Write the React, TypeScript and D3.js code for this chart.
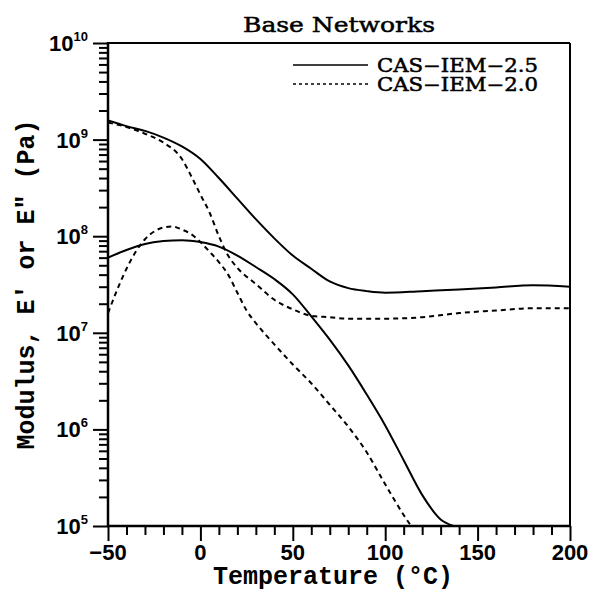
import React, { useEffect, useRef } from 'react'
import * as d3 from 'd3'

// E' and E'' for the two base networks (Pa)
const tempStorage25 = [-50, -40, -30, -20, -10, 0, 10, 20, 30, 40, 50, 60, 70, 80, 90, 100, 120, 140, 160, 180, 200]
const storage25 = [1.58e9, 1.38e9, 1.23e9, 1.05e9, 8.5e8, 6.3e8, 4.0e8, 2.45e8, 1.5e8, 9.5e7, 6.3e7, 4.6e7, 3.4e7, 2.9e7, 2.7e7, 2.6e7, 2.7e7, 2.8e7, 2.95e7, 3.1e7, 3.0e7]

const tempStorage20 = [-50, -40, -30, -20, -10, -5, 0, 5, 10, 15, 20, 30, 40, 50, 60, 70, 80, 100, 120, 140, 160, 180, 200]
const storage20 = [1.5e9, 1.35e9, 1.15e9, 9.3e8, 6.3e8, 4.2e8, 2.7e8, 1.75e8, 1.0e8, 6.3e7, 4.7e7, 3.2e7, 2.2e7, 1.75e7, 1.5e7, 1.45e7, 1.4e7, 1.4e7, 1.45e7, 1.6e7, 1.7e7, 1.8e7, 1.8e7]

const tempLoss25 = [-50, -40, -30, -20, -10, 0, 10, 20, 30, 40, 50, 60, 70, 80, 90, 100, 110, 120, 130, 137]
const loss25 = [6.0e7, 7.2e7, 8.3e7, 8.9e7, 9.1e7, 8.7e7, 7.8e7, 6.3e7, 4.8e7, 3.6e7, 2.5e7, 1.48e7, 8.5e6, 4.6e6, 2.3e6, 1.1e6, 4.8e5, 2.1e5, 1.17e5, 1.0e5]

const tempLoss20 = [-50, -45, -40, -35, -30, -25, -20, -15, -10, -5, 0, 5, 10, 15, 20, 25, 30, 40, 50, 60, 70, 80, 90, 100, 110, 114]
const loss20 = [1.6e7, 2.8e7, 4.6e7, 6.9e7, 9.3e7, 1.12e8, 1.23e8, 1.26e8, 1.17e8, 1.05e8, 8.7e7, 6.9e7, 5.4e7, 4.0e7, 2.6e7, 1.7e7, 1.26e7, 7.6e6, 4.7e6, 3.0e6, 1.8e6, 1.07e6, 5.8e5, 2.7e5, 1.3e5, 1.0e5]

const xMajorTicks = [-50, 0, 50, 100, 150, 200]
const yDecades = [5, 6, 7, 8, 9, 10]
const legendLabels = ['CAS\u2212IEM\u22122.5', 'CAS\u2212IEM\u22122.0']

const W = 590
const H = 591
const left = 108
const right = 570
const top = 43
const bottom = 526

const dashed = '5,4'

export default function App() {
  const xAxisRef = useRef<SVGGElement>(null)
  const yAxisRef = useRef<SVGGElement>(null)

  const x = d3.scaleLinear().domain([-50, 200]).range([left, right])
  const y = d3.scaleLog().domain([1e5, 1e10]).range([bottom, top])

  const line = d3.line<[number, number]>()
    .x((d) => x(d[0]))
    .y((d) => y(d[1]))
    .curve(d3.curveMonotoneX)

  const series = [
    { t: tempStorage25, v: storage25, dash: null },
    { t: tempStorage20, v: storage20, dash: dashed },
    { t: tempLoss25, v: loss25, dash: null },
    { t: tempLoss20, v: loss20, dash: dashed },
  ]

  useEffect(() => {
    const minorX = d3.range(-50, 201, 10)
    const gx = d3.select(xAxisRef.current)
    gx.selectAll('*').remove()
    gx.append('g')
      .call(d3.axisBottom(x).tickValues(minorX.filter((v) => !xMajorTicks.includes(v))).tickSize(9).tickFormat(() => ''))
    gx.append('g')
      .call(d3.axisBottom(x).tickValues(xMajorTicks).tickSize(15).tickFormat(() => ''))
    gx.selectAll('.domain').remove()
    gx.selectAll('line').attr('stroke', '#000').attr('stroke-width', 2)

    const minorY: number[] = []
    for (let e = 5; e < 10; e++) for (let m = 2; m <= 9; m++) minorY.push(m * 10 ** e)
    const gy = d3.select(yAxisRef.current)
    gy.selectAll('*').remove()
    gy.append('g')
      .call(d3.axisLeft(y).tickValues(minorY).tickSize(9).tickFormat(() => ''))
    gy.append('g')
      .call(d3.axisLeft(y).tickValues(yDecades.map((e) => 10 ** e)).tickSize(15).tickFormat(() => ''))
    gy.selectAll('.domain').remove()
    gy.selectAll('line').attr('stroke', '#000').attr('stroke-width', 2)
  }, [])

  return (
    <svg width={W} height={H} style={{ position: 'absolute', left: 0, top: 0, background: '#fff' }}>
      <defs>
        <clipPath id="plot">
          <rect x={left} y={top} width={right - left} height={bottom - top} />
        </clipPath>
      </defs>

      <text x={(left + right) / 2} y={32} textAnchor="middle" fontFamily="DejaVu Serif"
        fontSize={21} stroke="#000" strokeWidth={0.5} textLength={192} lengthAdjust="spacingAndGlyphs">
        Base Networks
      </text>

      <g clipPath="url(#plot)">
        {series.map((s, i) => (
          <path key={i} d={line(s.t.map((t, j) => [t, s.v[j]] as [number, number])) || ''}
            fill="none" stroke="#000" strokeWidth={2}
            strokeDasharray={s.dash || undefined} />
        ))}
      </g>

      {/* frame */}
      <line x1={left} x2={right} y1={top} y2={top} stroke="#000" strokeWidth={2} />
      <line x1={right} x2={right} y1={top} y2={bottom} stroke="#000" strokeWidth={2} />
      <line x1={left} x2={left} y1={top - 1} y2={bottom + 1} stroke="#000" strokeWidth={2.5} />
      <line x1={left - 1} x2={right + 1} y1={bottom} y2={bottom} stroke="#000" strokeWidth={2.5} />

      <g ref={xAxisRef} transform={`translate(0,${bottom})`} />
      <g ref={yAxisRef} transform={`translate(${left},0)`} />

      {xMajorTicks.map((t) => (
        <text key={t} x={x(t)} y={560} textAnchor="middle" fontFamily="Liberation Sans" fontWeight="bold" fontSize={22}>
          {t < 0 ? `\u2212${-t}` : t}
        </text>
      ))}

      {yDecades.map((e) => (
        <text key={e} x={88} y={y(10 ** e) + 8} textAnchor="end" fontFamily="Liberation Sans" fontWeight="bold" fontSize={22}>
          10<tspan dy={-10} fontSize={13}>{e}</tspan>
        </text>
      ))}

      <text x={333} y={584} textAnchor="middle" fontFamily="Liberation Mono" fontWeight="bold" fontSize={25}>
        Temperature (°C)
      </text>
      <text transform={`translate(34,${(top + bottom) / 2}) rotate(-90)`} textAnchor="middle"
        fontFamily="Liberation Mono, DejaVu Sans Mono" fontWeight="bold" fontSize={25}>
        Modulus, E′ or E″ (Pa)
      </text>

      {legendLabels.map((label, i) => (
        <g key={label} transform={`translate(0,${65 + i * 19})`}>
          <line x1={293} x2={368} y1={0} y2={0} stroke="#000" strokeWidth={1.5}
            strokeDasharray={i === 1 ? '3,3' : undefined} />
          <text x={377} y={7} fontFamily="DejaVu Serif" fontSize={18} stroke="#000" strokeWidth={0.5}
            textLength={161} lengthAdjust="spacingAndGlyphs">{label}</text>
        </g>
      ))}
    </svg>
  )
}
